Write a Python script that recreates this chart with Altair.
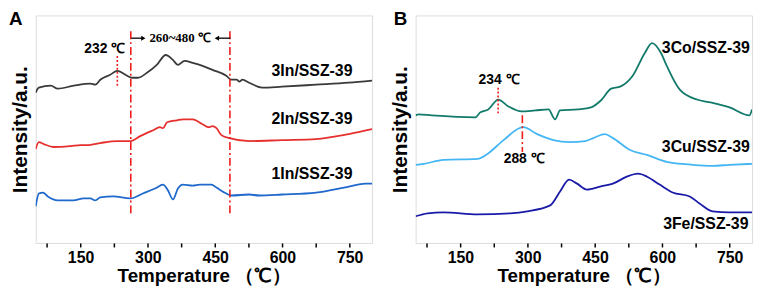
import altair as alt
import pandas as pd

# ---------------- data ----------------
SERIES_A = ["3In/SSZ-39", "2In/SSZ-39", "1In/SSZ-39"]
T_3IN = [50, 57, 84, 99, 135, 172, 183, 194, 216, 232, 250, 265, 278, 298, 320, 340, 356, 367,
         382, 400, 422, 444, 475, 486, 498, 504, 511, 526, 555, 599, 675, 748, 800]
I_3IN = [152, 157, 159, 156, 159, 161, 160, 165, 170, 174, 170, 167, 167, 172, 180, 190, 185, 180,
         184, 182, 179, 175, 169, 165, 165, 163, 165, 162, 157, 158, 160, 162, 164]
T_2IN = [50, 57, 68, 90, 128, 150, 168, 194, 232, 261, 283, 312, 327, 334, 343, 365, 378, 400,
         422, 436, 444, 453, 464, 482, 526, 599, 675, 748, 800]
I_2IN = [95, 102, 100, 97, 98, 99, 99, 101, 103, 103, 108, 114, 117, 116, 122, 124, 125, 125,
         120, 117, 118, 116, 109, 106, 103, 104, 105, 110, 115]
T_1IN = [50, 57, 66, 77, 99, 134, 157, 172, 183, 194, 223, 261, 289, 316, 334, 345, 356, 367,
         378, 400, 416, 431, 442, 453, 475, 486, 526, 548, 599, 675, 748, 785, 800]
I_1IN = [37, 50, 51, 47, 43, 43, 45, 45, 43, 46, 47, 45, 50, 55, 59, 53, 44, 55,
         59, 58, 59, 59, 59, 56, 50, 48, 49, 48, 49, 51, 57, 60, 60]

SERIES_B = ["3Co/SSZ-39", "3Cu/SSZ-39", "3Fe/SSZ-39"]
T_3CO = [50, 57, 86, 183, 194, 212, 234, 257, 286, 317, 346, 361, 372, 412, 441, 463, 486, 506,
         534, 561, 577, 597, 610, 639, 677, 708, 750, 794, 800]
I_3CO = [129, 130, 129, 127, 132, 135, 145, 138, 133, 134, 135, 125, 134, 135, 137, 144, 156, 158,
         169, 192, 202, 192, 179, 155, 145, 142, 137, 129, 135]
T_3CU = [50, 68, 112, 188, 210, 246, 290, 321, 357, 394, 428, 446, 472, 490, 528, 566, 610, 668,
         712, 750, 800]
I_3CU = [79, 80, 84, 85, 90, 104, 117, 110, 104, 102, 103, 106, 110, 106, 94, 89, 82, 79,
         78, 79, 80]
T_3FE = [50, 77, 112, 188, 261, 299, 350, 372, 392, 410, 432, 461, 490, 521, 546, 566, 594, 623,
         661, 683, 712, 750, 800]
I_3FE = [27, 30, 31, 29, 30, 32, 38, 52, 64, 60, 54, 57, 60, 67, 70, 67, 59, 51,
         47, 40, 32, 31, 31]

COLORS_A = ["#3a3a3a", "#e5302d", "#1f68cc"]
COLORS_B = ["#117a6b", "#45b6f3", "#1a1aa8"]
RED = "#ee1c1c"

TICKS = [75, 150, 225, 300, 375, 450, 525, 600, 675, 750]

# series name labels: centre temperature, intensity
LAB_A_T = [666, 666, 666]
LAB_A_I = [174, 125, 70]
LAB_B_T = [697, 697, 697]
LAB_B_I = [197, 97, 19]

# annotation lines: temperature, start, end
DASHDOT_A_T = [262, 483]
DASHDOT_A_I1 = [214, 214]
DASHDOT_A_I2 = [30, 30]
DOT_A_T = [232]
DOT_A_I1 = [189]
DOT_A_I2 = [157]
DOT_B_T = [234]
DOT_B_I1 = [157]
DOT_B_I2 = [130]
DASHDOT_B_T = [288]
DASHDOT_B_I1 = [129]
DASHDOT_B_I2 = [92]

# annotation texts
ANN_A_TEXT = ["232 ℃"]
ANN_A_T = [204]
ANN_A_I = [196]
RANGE_TEXT = ["260~480 ℃"]
RANGE_T = [372]
RANGE_I = [207]
ARROW_T1 = [263, 484]
ARROW_T2 = [290, 454]
ARROW_I = [207, 207]
ARROW_SHAPE = ["triangle-right", "triangle-left"]
ANN_B_TEXT = ["234 ℃", "288 ℃"]
ANN_B_T = [236, 292]
ANN_B_I = [165, 85]

SANS = "Liberation Sans"
SERIF = "Liberation Serif"


def curves_df(names, temps, ints):
    rows = []
    for n, ts, vs in zip(names, temps, ints):
        for t, v in zip(ts, vs):
            rows.append({"series": n, "T": t, "I": v})
    return pd.DataFrame(rows)


def xenc(field="T"):
    return alt.X(
        f"{field}:Q",
        scale=alt.Scale(domain=[50, 800], nice=False, zero=False),
        axis=alt.Axis(
            values=TICKS,
            labelExpr="datum.value % 150 === 0 ? datum.label : ''",
            title="Temperature （℃）",
            grid=False, domain=False, ticks=True,
            tickColor="black", tickWidth=1.5, tickSize=4,
            labelFont=SANS, labelFontWeight="bold", labelFontSize=16,
            labelColor="black", labelPadding=3, labelOverlap=False,
            titleFont=SANS, titleFontWeight="bold", titleFontSize=19,
            titleColor="black", titlePadding=1,
        ),
    )


def yenc(field="I"):
    return alt.Y(
        f"{field}:Q",
        scale=alt.Scale(domain=[0, 230], nice=False, zero=False),
        axis=alt.Axis(
            title="Intensity/a.u.", labels=False, ticks=False, domain=False, grid=False,
            titleFont=SANS, titleFontWeight="bold", titleFontSize=21,
            titleColor="black", titlePadding=5,
        ),
    )


def panel(letter, letter_x, names, colors, temps, ints, lab_t, lab_i, extra):
    df = curves_df(names, temps, ints)
    lines = alt.Chart(df).mark_line(strokeWidth=1.8, clip=True, interpolate="monotone").encode(
        x=xenc(), y=yenc(),
        color=alt.Color("series:N", scale=alt.Scale(domain=names, range=colors), legend=None),
        detail="series:N",
    )
    labs = alt.Chart(pd.DataFrame({"T": lab_t, "I": lab_i, "label": names})).mark_text(
        font=SANS, fontSize=16, fontWeight="bold", color="black", baseline="middle"
    ).encode(x=xenc(), y=yenc(), text="label:N")
    let = alt.Chart(pd.DataFrame({"label": [letter]})).mark_text(
        font=SANS, fontSize=19, fontWeight="bold", color="black", align="left", baseline="top"
    ).encode(x=alt.value(letter_x), y=alt.value(-5), text="label:N")
    return alt.layer(lines, *extra, labs, let).properties(width=340, height=230)


def vrules(ts, i1, i2, dash, width=1.6):
    return alt.Chart(pd.DataFrame({"T": ts, "I": i1, "I2": i2})).mark_rule(
        color=RED, strokeWidth=width, strokeDash=dash
    ).encode(x=xenc(), y=yenc(), y2="I2:Q")


def texts(labels, ts, iv, font, size=14):
    return alt.Chart(pd.DataFrame({"T": ts, "I": iv, "label": labels})).mark_text(
        font=font, fontSize=size, fontWeight="bold", color="black", baseline="middle"
    ).encode(x=xenc(), y=yenc(), text="label:N")


arrow_df = pd.DataFrame({"T": ARROW_T1, "T2": ARROW_T2, "I": ARROW_I, "shape": ARROW_SHAPE})
arrow_lines = alt.Chart(arrow_df).mark_rule(color="black", strokeWidth=1.3).encode(
    x=xenc(), x2="T2:Q", y=yenc()
)
arrow_heads = alt.Chart(arrow_df).mark_point(filled=True, color="black", size=26, opacity=1).encode(
    x=xenc("T2"), y=yenc(),
    shape=alt.Shape("shape:N", scale=alt.Scale(domain=ARROW_SHAPE, range=ARROW_SHAPE), legend=None),
)

extra_a = [
    vrules(DASHDOT_A_T, DASHDOT_A_I1, DASHDOT_A_I2, [8, 3, 2, 3]),
    vrules(DOT_A_T, DOT_A_I1, DOT_A_I2, [2, 2]),
    arrow_lines, arrow_heads,
    texts(ANN_A_TEXT, ANN_A_T, ANN_A_I, SANS),
    texts(RANGE_TEXT, RANGE_T, RANGE_I, SERIF, 13),
]
extra_b = [
    vrules(DOT_B_T, DOT_B_I1, DOT_B_I2, [2, 2]),
    vrules(DASHDOT_B_T, DASHDOT_B_I1, DASHDOT_B_I2, [8, 3, 2, 3]),
    texts(ANN_B_TEXT, ANN_B_T, ANN_B_I, SANS),
]

panel_a = panel("A", -27, SERIES_A, COLORS_A, [T_3IN, T_2IN, T_1IN], [I_3IN, I_2IN, I_1IN],
                LAB_A_T, LAB_A_I, extra_a)
panel_b = panel("B", -22, SERIES_B, COLORS_B, [T_3CO, T_3CU, T_3FE], [I_3CO, I_3CU, I_3FE],
                LAB_B_T, LAB_B_I, extra_b)

chart = alt.hconcat(panel_a, panel_b, spacing=16).resolve_scale(
    color="independent", shape="independent"
).properties(padding={"left": 0, "top": 0, "right": 0, "bottom": 0}).configure_view(
    stroke="black", strokeWidth=1.6
).configure(background="white")

chart.save("out.html", embed_options={"renderer": "svg", "actions": False})
